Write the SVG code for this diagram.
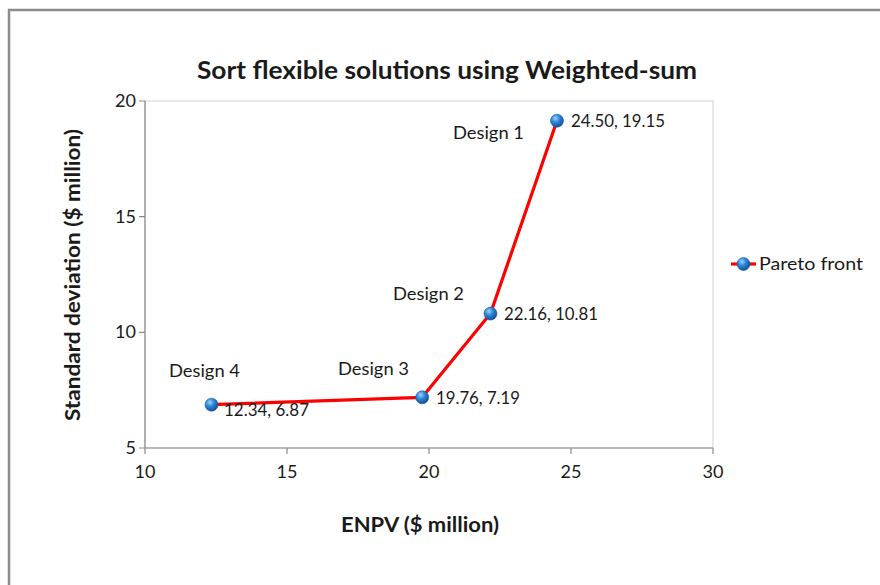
<svg xmlns="http://www.w3.org/2000/svg" width="880" height="585" viewBox="0 0 880 585">
<defs>
<radialGradient id="ball" cx="0.38" cy="0.32" r="0.7">
<stop offset="0" stop-color="#9fd3ff"/>
<stop offset="0.45" stop-color="#2f86d8"/>
<stop offset="1" stop-color="#10508f"/>
</radialGradient>
<style>
text{font-family:Lato,"Liberation Sans",sans-serif;fill:#1a1a1a}
.tick{font-size:18px}
.lbl{font-size:18px}
.ttl{font-size:20px;font-weight:bold}
.ax{stroke:#8a8a8a;stroke-width:1.2;fill:none}
.pt{fill:url(#ball);stroke:#1b5d9c;stroke-width:0.6}
</style>
</defs>
<rect x="0" y="0" width="880" height="585" fill="#ffffff"/>
<rect x="9" y="10" width="900" height="600" fill="none" stroke="#8c8c8c" stroke-width="2.5"/>
<text x="447" y="79" text-anchor="middle" font-size="25" font-weight="bold" textLength="500" lengthAdjust="spacingAndGlyphs">Sort flexible solutions using Weighted-sum</text>
<g id="plot-area">
<rect x="145" y="101" width="568" height="347" fill="none" stroke="#d9d9d9" stroke-width="1.2"/>
<path class="ax" d="M145,101 V448 H713 M139,101 H145 M139,216.7 H145 M139,332.3 H145 M139,448 H145 M145,448 V454 M287,448 V454 M429,448 V454 M571,448 V454 M713,448 V454"/>
</g>
<g id="y-axis">
<text class="tick" x="136" y="107" text-anchor="end">20</text>
<text class="tick" x="136" y="223" text-anchor="end">15</text>
<text class="tick" x="136" y="338" text-anchor="end">10</text>
<text class="tick" x="136" y="454" text-anchor="end">5</text>
<text class="ttl" transform="translate(80,275) rotate(-90)" text-anchor="middle" textLength="292" lengthAdjust="spacingAndGlyphs">Standard deviation ($ million)</text>
</g>
<g id="x-axis">
<text class="tick" x="145" y="478" text-anchor="middle">10</text>
<text class="tick" x="287" y="478" text-anchor="middle">15</text>
<text class="tick" x="429" y="478" text-anchor="middle">20</text>
<text class="tick" x="571" y="478" text-anchor="middle">25</text>
<text class="tick" x="713" y="478" text-anchor="middle">30</text>
<text class="ttl" x="420" y="532" text-anchor="middle" textLength="158" lengthAdjust="spacingAndGlyphs">ENPV ($ million)</text>
</g>
<g id="connectors">
<polyline points="211.5,404.7 422.2,397.3 490.5,313.6 557,120.7" fill="none" stroke="#ff0000" stroke-width="3.2" stroke-linejoin="round"/>
</g>
<g id="design1">
<circle class="pt" cx="557" cy="120.7" r="6.5"/>
<text class="lbl" x="571" y="127" textLength="94" lengthAdjust="spacingAndGlyphs">24.50, 19.15</text>
<text class="lbl" x="453" y="139" textLength="71" lengthAdjust="spacingAndGlyphs">Design 1</text>
</g>
<g id="design2">
<circle class="pt" cx="490.5" cy="313.6" r="6.5"/>
<text class="lbl" x="504" y="320" textLength="94" lengthAdjust="spacingAndGlyphs">22.16, 10.81</text>
<text class="lbl" x="393" y="300" textLength="71" lengthAdjust="spacingAndGlyphs">Design 2</text>
</g>
<g id="design3">
<circle class="pt" cx="422.2" cy="397.3" r="6.5"/>
<text class="lbl" x="436" y="404" textLength="84" lengthAdjust="spacingAndGlyphs">19.76, 7.19</text>
<text class="lbl" x="338" y="375" textLength="71" lengthAdjust="spacingAndGlyphs">Design 3</text>
</g>
<g id="design4">
<circle class="pt" cx="211.5" cy="404.7" r="6.5"/>
<text class="lbl" x="224" y="416" textLength="85" lengthAdjust="spacingAndGlyphs">12.34, 6.87</text>
<text class="lbl" x="169" y="377" textLength="71" lengthAdjust="spacingAndGlyphs">Design 4</text>
</g>
<g id="legend">
<line x1="731" y1="264" x2="756" y2="264" stroke="#ff0000" stroke-width="3.2"/>
<circle class="pt" cx="743.5" cy="264" r="6.5"/>
<text x="759" y="270" font-size="18" textLength="104" lengthAdjust="spacingAndGlyphs">Pareto front</text>
</g>
</svg>
